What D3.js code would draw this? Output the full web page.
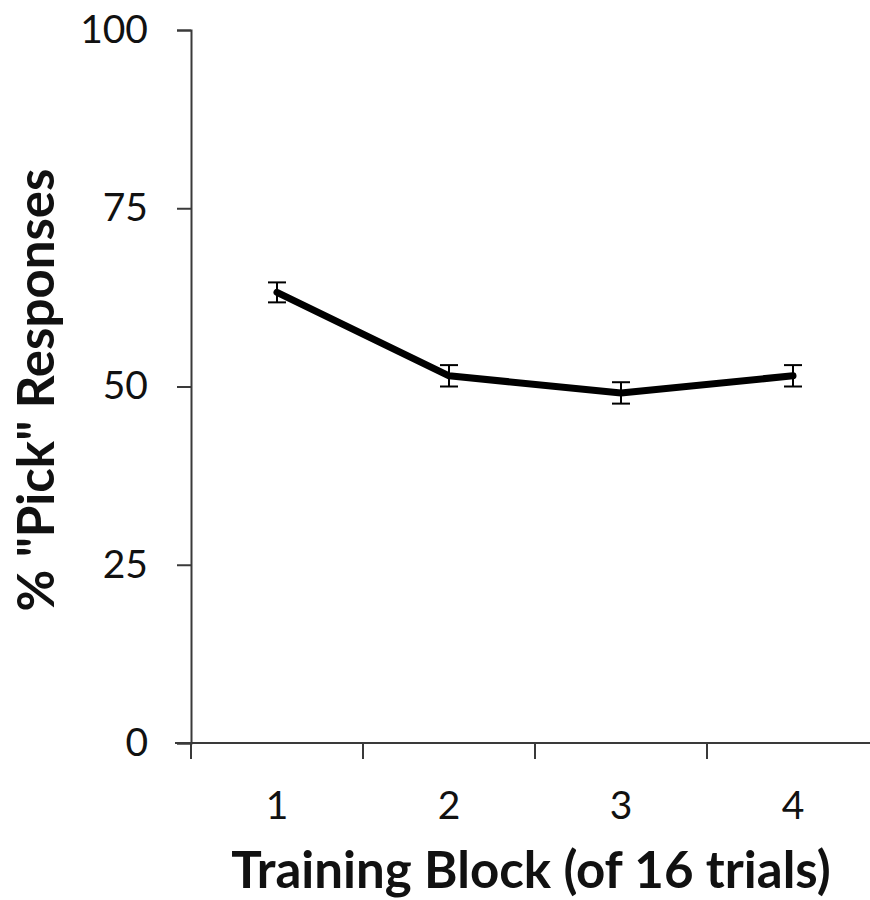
<!DOCTYPE html>
<html>
<head>
<meta charset="utf-8">
<script src="https://cdn.jsdelivr.net/npm/d3@7"></script>
<style>
  body { margin: 0; background: #fff; }
  svg { display: block; }
  text { font-family: Lato, "Open Sans", sans-serif; fill: #111; }
</style>
</head>
<body>
<svg id="chart" width="870" height="900"></svg>
<script>
const blocks = ['1', '2', '3', '4'];
const pickPct = [63.2, 51.5, 49.1, 51.5];
const pickErr = [1.4, 1.5, 1.5, 1.5];
const yTicks = [0, 25, 50, 75, 100];

const svg = d3.select('#chart');
const margin = { left: 191, right: -9, top: 30, bottom: 157 };
const width = 870, height = 900;

const x = d3.scaleBand()
  .domain(blocks)
  .range([margin.left, width - margin.right])
  .padding(0);

const y = d3.scaleLinear()
  .domain([0, 100])
  .range([height - margin.bottom, margin.top]);

const axisColor = '#3a3a3a';

// y axis
const yAxis = d3.axisLeft(y).tickValues(yTicks).tickSize(14).tickPadding(29);
const yG = svg.append('g')
  .attr('transform', `translate(${margin.left},0)`)
  .call(yAxis);
yG.select('.domain').attr('stroke', axisColor).attr('stroke-width', 2);
yG.selectAll('.tick line').attr('stroke', axisColor).attr('stroke-width', 2);
yG.selectAll('.tick text')
  .attr('font-size', 39)
  .attr('font-family', 'Lato, sans-serif')
  .attr('fill', '#111');

// x axis: baseline plus ticks at band edges
const y0 = y(0);
svg.append('line')
  .attr('x1', margin.left - 16).attr('x2', width)
  .attr('y1', y0).attr('y2', y0)
  .attr('stroke', axisColor).attr('stroke-width', 2);

const edges = blocks.map(b => x(b));
svg.append('g').selectAll('line')
  .data(edges)
  .join('line')
  .attr('x1', d => d).attr('x2', d => d)
  .attr('y1', y0).attr('y2', y0 + 16)
  .attr('stroke', axisColor).attr('stroke-width', 2);

svg.append('g').selectAll('text')
  .data(blocks)
  .join('text')
  .attr('x', d => x(d) + x.bandwidth() / 2)
  .attr('y', y0 + 76)
  .attr('text-anchor', 'middle')
  .attr('font-size', 39)
  .text(d => d);

// line
const pts = blocks.map((b, i) => ({ b, v: pickPct[i], e: pickErr[i] }));
const cx = d => x(d.b) + x.bandwidth() / 2;

svg.append('path')
  .datum(pts)
  .attr('fill', 'none')
  .attr('stroke', '#000')
  .attr('stroke-width', 7)
  .attr('stroke-linejoin', 'round')
  .attr('stroke-linecap', 'round')
  .attr('d', d3.line().x(cx).y(d => y(d.v)));

// error bars
const eb = svg.append('g').attr('stroke', '#000').attr('stroke-width', 2);
eb.selectAll('.stem').data(pts).join('line')
  .attr('x1', cx).attr('x2', cx)
  .attr('y1', d => y(d.v + d.e)).attr('y2', d => y(d.v - d.e));
eb.selectAll('.capT').data(pts).join('line')
  .attr('x1', d => cx(d) - 9).attr('x2', d => cx(d) + 9)
  .attr('y1', d => y(d.v + d.e)).attr('y2', d => y(d.v + d.e));
eb.selectAll('.capB').data(pts).join('line')
  .attr('x1', d => cx(d) - 9).attr('x2', d => cx(d) + 9)
  .attr('y1', d => y(d.v - d.e)).attr('y2', d => y(d.v - d.e));

// axis titles
svg.append('text')
  .attr('transform', `translate(54,390) rotate(-90)`)
  .attr('text-anchor', 'middle')
  .attr('font-size', 51)
  .attr('font-weight', 'bold')
  .text('% "Pick" Responses');

svg.append('text')
  .attr('x', 531)
  .attr('y', 888)
  .attr('text-anchor', 'middle')
  .attr('font-size', 51)
  .attr('font-weight', 'bold')
  .text('Training Block (of 16 trials)');
</script>
</body>
</html>
